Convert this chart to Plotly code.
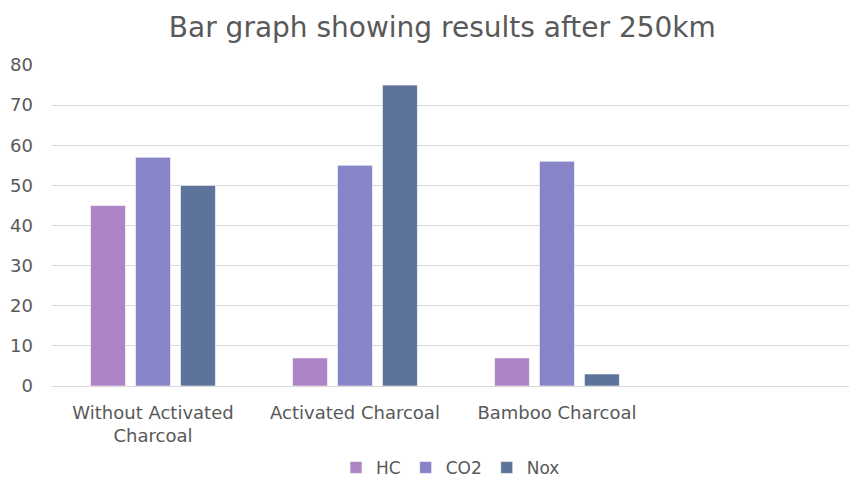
import plotly.graph_objects as go

categories = ["Without Activated<br>Charcoal", "Activated Charcoal", "Bamboo Charcoal"]
hc = [45, 7, 7]
co2 = [57, 55, 56]
nox = [50, 75, 3]
series_names = ["HC", "CO2", "Nox"]
colors = ["#AD84C6", "#8784C7", "#5D739A"]

fig = go.Figure()
for name, vals, col in zip(series_names, [hc, co2, nox], colors):
    fig.add_trace(go.Bar(
        x=categories, y=vals, name=name,
        marker=dict(color=col, line=dict(color="rgba(255,255,255,0.6)", width=1)),
    ))

font_family = "DejaVu Sans"
fig.update_layout(
    width=849, height=480,
    paper_bgcolor="white", plot_bgcolor="white",
    margin=dict(l=52, r=0, t=65, b=94, autoexpand=False),
    barmode="group", bargap=0.332, bargroupgap=0.222,
    title=dict(text="Bar graph showing results after 250km",
               x=0.521, xanchor="center", y=0.944, yanchor="middle",
               font=dict(family=font_family, size=28, color="#595959")),
    font=dict(family=font_family, size=18, color="#595959"),
    showlegend=True,
    legend=dict(orientation="h", x=0.5, xanchor="center", y=-0.255, yanchor="middle",
                font=dict(size=17, color="#595959"), itemwidth=30,
                traceorder="normal"),
    xaxis=dict(type="category", range=[-0.5, 3.446], showgrid=False,
               showline=False, ticks="", ticklabelstandoff=14,
               tickfont=dict(size=18, color="#595959")),
    yaxis=dict(range=[0, 80], dtick=10, showgrid=True, gridcolor="#D9D9D9",
               gridwidth=1, zeroline=True, zerolinecolor="#D9D9D9", zerolinewidth=1,
               showline=False, ticks="", ticklabelstandoff=18,
               tickfont=dict(size=18, color="#595959")),
)

fig.write_html(
    "out.html",
    config={"displayModeBar": False},
    post_script="document.body.style.margin='0';document.body.style.overflow='hidden';",
)
